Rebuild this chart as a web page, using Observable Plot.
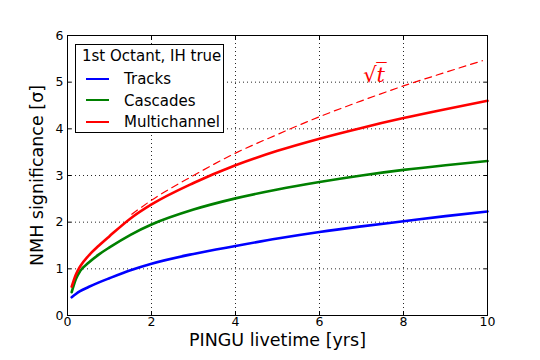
<!DOCTYPE html>
<html>
<head>
<meta charset="utf-8">
<script src="https://cdn.jsdelivr.net/npm/d3@7"></script>
<script src="https://cdn.jsdelivr.net/npm/@observablehq/plot@0.6"></script>
<style>
  html, body { margin: 0; padding: 0; background: white; }
  #wrap { position: relative; width: 540px; height: 360px; font-family: "DejaVu Sans", sans-serif; }
  #legend {
    position: absolute; left: 75px; top: 44px; width: 149px; height: 89px;
    border: 1px solid black; background: white; font-size: 15px; color: black;
    box-sizing: border-box;
  }
  #legend .title { position: absolute; left: 6px; top: 2px; white-space: nowrap; }
  #legend .row { position: absolute; left: 10px; white-space: nowrap; height: 18px; line-height: 18px; }
  #legend .sw { display: inline-block; width: 23px; height: 0; border-top: 2.5px solid; vertical-align: middle; margin-right: 15px; position: relative; top: -1px; }
</style>
</head>
<body>
<div id="wrap"></div>
<script>
const years        = [0.1, 0.2, 0.3, 0.5, 0.75, 1, 1.5, 2, 3, 4, 5, 6, 7, 8, 9, 10];
const tracks       = [0.39, 0.46, 0.52, 0.61, 0.71, 0.80, 0.97, 1.11, 1.32, 1.49, 1.65, 1.79, 1.91, 2.02, 2.13, 2.23];
const cascades     = [0.50, 0.78, 0.95, 1.13, 1.31, 1.46, 1.73, 1.95, 2.27, 2.51, 2.70, 2.86, 3.00, 3.12, 3.22, 3.31];
const multichannel = [0.62, 0.88, 1.05, 1.28, 1.50, 1.70, 2.08, 2.38, 2.84, 3.22, 3.53, 3.79, 4.02, 4.23, 4.42, 4.60];
const sqrtYears = [1.53, 2, 3, 4, 5, 6, 7, 8, 9, 9.88];
const sqrtRef   = [2.17, 2.47, 3.00, 3.48, 3.88, 4.26, 4.60, 4.92, 5.21, 5.46];
const seriesNames = ["Tracks", "Cascades", "Multichannel"];
const seriesColors = ["#0000ff", "#008000", "#ff0000"];
const legendTitle = "1st Octant, IH true";
const xTicks = [0, 2, 4, 6, 8, 10];
const yTicks = [0, 1, 2, 3, 4, 5, 6];
const xLabel = "PINGU livetime [yrs]";
const yLabel = "NMH significance [σ]";
const refLabel = "√t̅";

const seriesValues = [tracks, cascades, multichannel];
const rows = [];
seriesNames.forEach((name, i) => {
  years.forEach((t, j) => rows.push({series: name, t, v: seriesValues[i][j]}));
});
const refRows = sqrtYears.map((t, j) => ({t, v: sqrtRef[j]}));

const grid = {stroke: "black", strokeOpacity: 0.85, strokeDasharray: "1,3", strokeWidth: 1};
const noText = () => "";

const chart = Plot.plot({
  width: 540, height: 360,
  marginLeft: 67, marginRight: 53, marginTop: 35, marginBottom: 45,
  style: {fontFamily: "DejaVu Sans, sans-serif", fontSize: "12.5px", color: "black", background: "white"},
  x: {domain: [0, 10]},
  y: {domain: [0, 6]},
  color: {domain: seriesNames, range: seriesColors},
  marks: [
    Plot.gridX(xTicks.slice(1, -1), grid),
    Plot.gridY(yTicks.slice(1, -1), grid),
    Plot.axisX(xTicks, {anchor: "bottom", tickSize: 0, tickPadding: 2, label: null, fontSize: 12.5}),
    Plot.axisY(yTicks, {anchor: "left", tickSize: 0, tickPadding: 4, label: null, fontSize: 12.5}),
    Plot.axisX(xTicks, {anchor: "bottom", tickSize: 4, dy: -4, tickFormat: noText, label: null}),
    Plot.axisX(xTicks, {anchor: "top", tickSize: 4, dy: 4, tickFormat: noText, label: null}),
    Plot.axisY(yTicks, {anchor: "left", tickSize: 4, dx: 4, tickFormat: noText, label: null}),
    Plot.axisY(yTicks, {anchor: "right", tickSize: 4, dx: -4, tickFormat: noText, label: null}),
    Plot.line(refRows, {x: "t", y: "v", stroke: "#ff0000", strokeWidth: 1.2, strokeDasharray: "7,5", curve: "monotone-x"}),
    Plot.line(rows, {x: "t", y: "v", z: "series", stroke: "series", strokeWidth: 2.6, curve: "monotone-x"}),
    Plot.text([refLabel], {x: [7.3], y: [5.14], fill: "#ff0000", fontSize: 21, fontStyle: "italic", fontFamily: "DejaVu Serif, serif"}),
    Plot.text([xLabel], {frameAnchor: "bottom", dy: 30, fontSize: 17.5, textAnchor: "middle"}),
    Plot.text([yLabel], {frameAnchor: "left", dx: -30, rotate: -90, fontSize: 17.5, textAnchor: "middle"}),
    Plot.frame({stroke: "black", strokeWidth: 1})
  ]
});

const wrap = document.getElementById("wrap");
wrap.appendChild(chart);
const legend = document.createElement("div");
legend.id = "legend";
let html = `<div class="title">${legendTitle}</div>`;
seriesNames.forEach((n, i) => {
  html += `<div class="row" style="top:${25 + i * 21.5}px"><span class="sw" style="border-color:${seriesColors[i]}"></span>${n}</div>`;
});
legend.innerHTML = html;
wrap.appendChild(legend);
</script>
</body>
</html>
